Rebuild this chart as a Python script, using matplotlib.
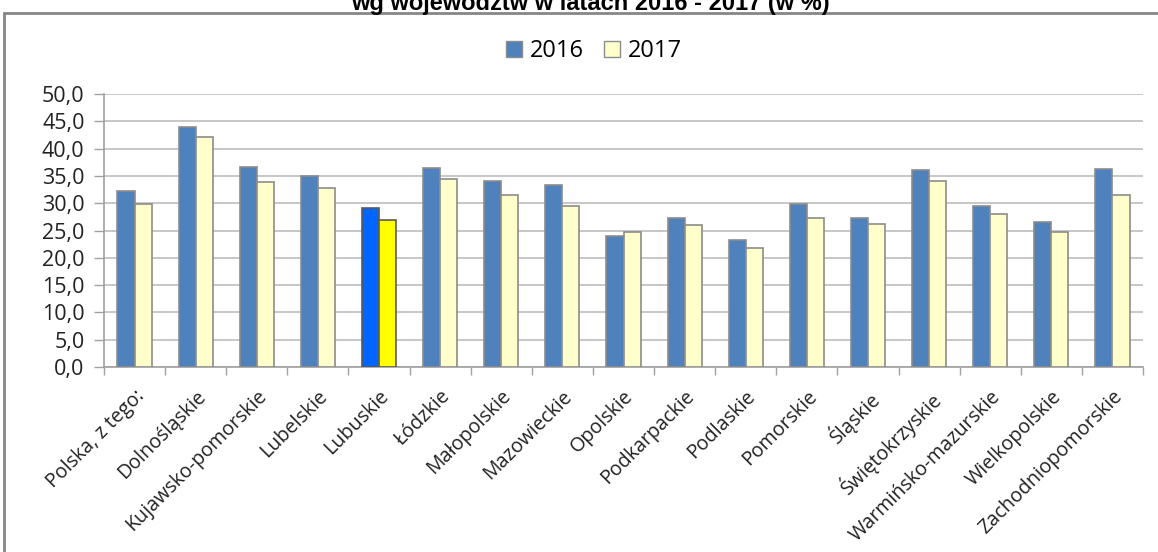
import matplotlib
matplotlib.use('Agg')
import matplotlib.pyplot as plt
from matplotlib.patches import Rectangle, Patch
import numpy as np

regions = ['Polska, z tego:', 'Dolnośląskie', 'Kujawsko-pomorskie', 'Lubelskie',
           'Lubuskie', 'Łódzkie', 'Małopolskie', 'Mazowieckie', 'Opolskie',
           'Podkarpackie', 'Podlaskie', 'Pomorskie', 'Śląskie', 'Świętokrzyskie',
           'Warmińsko-mazurskie', 'Wielkopolskie', 'Zachodniopomorskie']
v2016 = [32.2, 43.9, 36.6, 34.9, 29.2, 36.4, 34.1, 33.3, 24.0, 27.3, 23.2,
         29.8, 27.2, 36.0, 29.5, 26.5, 36.2]
v2017 = [29.9, 42.1, 33.8, 32.7, 27.0, 34.4, 31.5, 29.5, 24.8, 26.0, 21.8,
         27.2, 26.1, 34.1, 28.1, 24.8, 31.5]
highlight = 'Lubuskie'
yticks = np.arange(0, 50.1, 5)

plt.rcParams['font.family'] = ['Open Sans', 'DejaVu Sans']

fig = plt.figure(figsize=(11.58, 5.52), dpi=100)
ax = fig.add_axes([104/1158, 1 - 367/552, 1039/1158, 273/552])

x = np.arange(len(regions))
w = 0.28
c16 = ['#0066FF' if r == highlight else '#4F81BD' for r in regions]
c17 = ['#FFFF00' if r == highlight else '#FFFFCC' for r in regions]
e = ['#5a5a5a' if r == highlight else '#8c8c8c' for r in regions]
ax.bar(x - w/2, v2016, w, color=c16, edgecolor=e, linewidth=1.2, zorder=3)
ax.bar(x + w/2, v2017, w, color=c17, edgecolor=e, linewidth=1.2, zorder=3)

ax.set_xlim(-0.5, len(regions) - 0.5)
ax.set_ylim(0, 50)
ax.set_yticks(yticks)
ax.set_yticklabels([f'{t:.1f}'.replace('.', ',') for t in yticks], fontsize=15.5, color='#222222')
ax.grid(axis='y', color='#bdbdbd', linewidth=1.2, zorder=0)

ax.set_xticks(np.arange(len(regions) + 1) - 0.5)
ax.set_xticklabels([])
ax.set_xticks(x, minor=True)
ax.set_xticklabels(regions, minor=True, rotation=45, ha='right', va='top',
                   rotation_mode='anchor', fontsize=14.2, color='#222222')
ax.tick_params(axis='x', which='major', length=6, color='#a0a0a0', width=1)
ax.tick_params(axis='x', which='minor', length=0, pad=14)
ax.tick_params(axis='y', length=7, color='#a0a0a0', width=1, pad=7)
for s in ['top', 'right']:
    ax.spines[s].set_visible(False)
for s in ['left', 'bottom']:
    ax.spines[s].set_color('#a0a0a0')
    ax.spines[s].set_linewidth(1.2)

handles = [Patch(facecolor='#4F81BD', edgecolor='#8c8c8c', label='2016'),
           Patch(facecolor='#FFFFCC', edgecolor='#8c8c8c', label='2017')]
fig.legend(handles=handles, loc='center', bbox_to_anchor=(594/1158, 1 - 51/552),
           ncol=2, frameon=False, fontsize=17, handlelength=0.67, handleheight=0.67,
           handletextpad=0.35, columnspacing=0.85, borderpad=0)

fig.patches.append(Rectangle((4/1158, -0.1), 1.2, 1.1 - 13/552, transform=fig.transFigure,
                             fill=False, edgecolor='#868686', linewidth=2))
fig.text(590/1158, 1 - 10/552, 'wg województw w latach 2016 - 2017 (w %)',
         ha='center', va='baseline', fontsize=17, fontweight='bold',
         family='Liberation Sans')

fig.savefig('out.png', dpi=100)
